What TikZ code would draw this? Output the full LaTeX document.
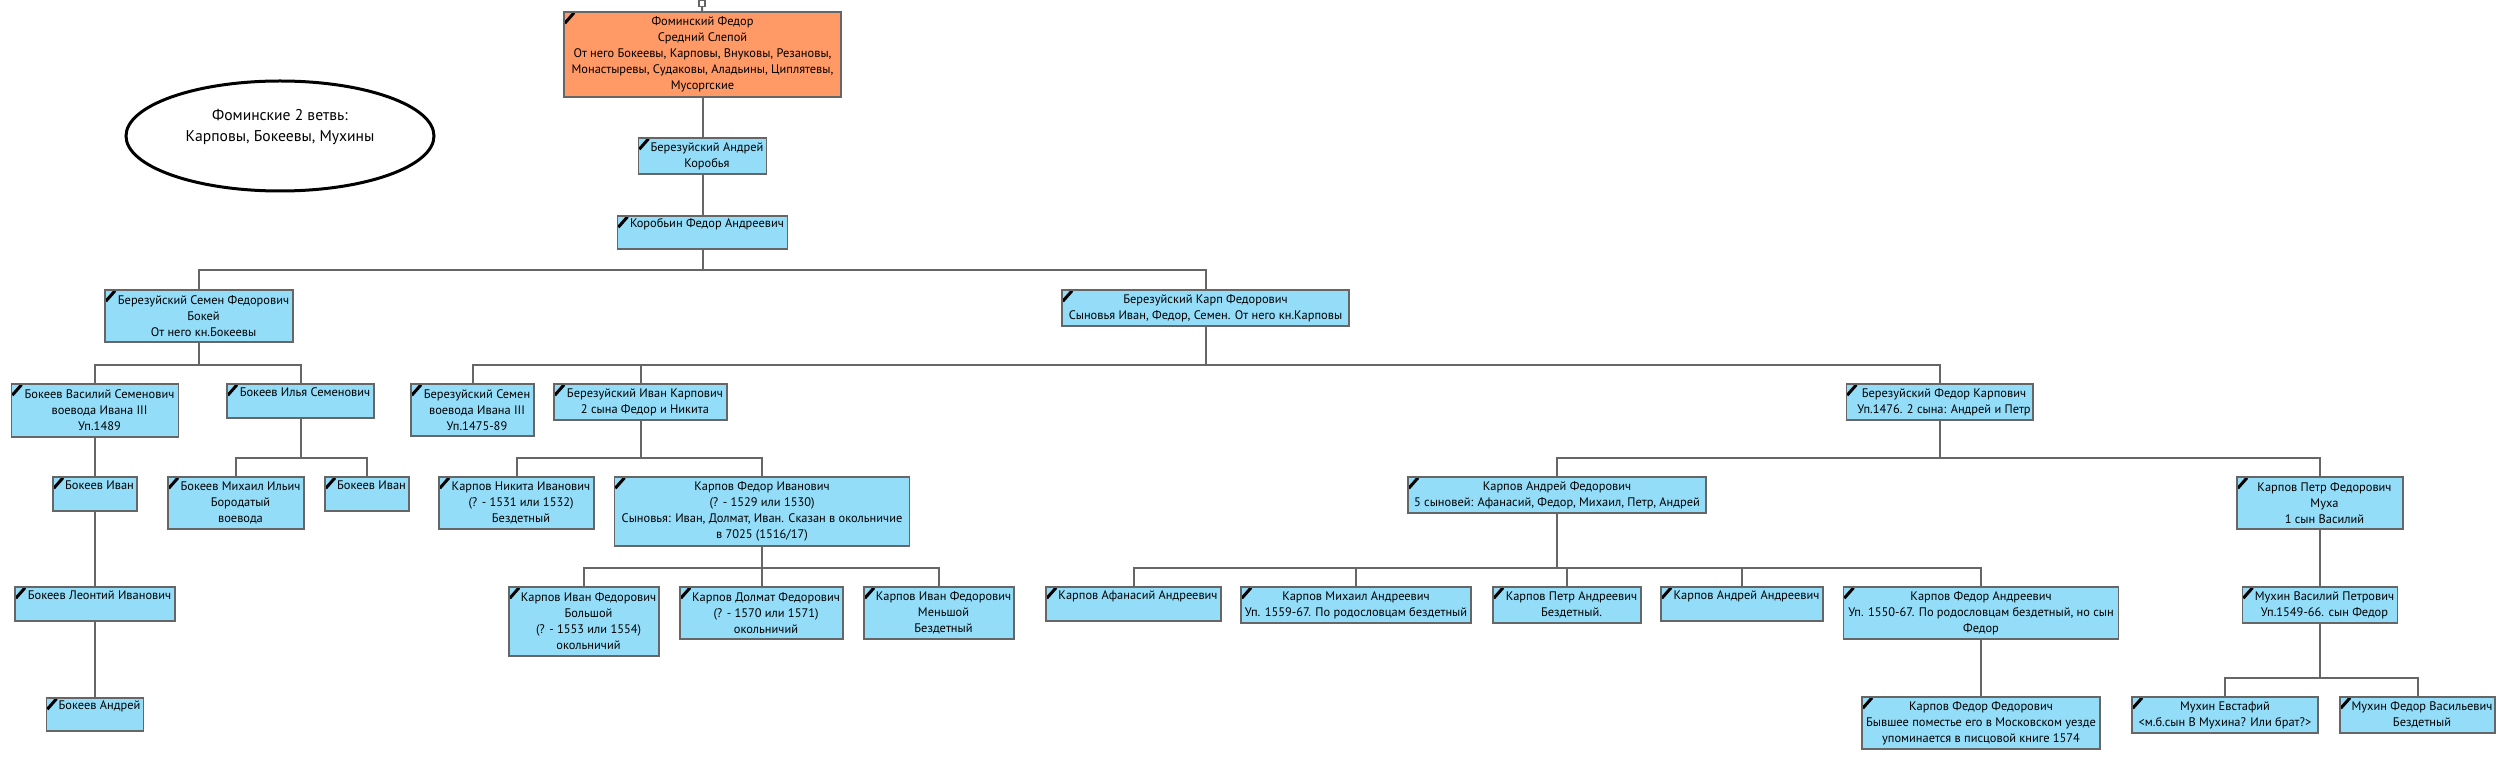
\documentclass[tikz,border=0pt]{standalone}
\usepackage{fontspec}
\setmainfont{PT Sans}
\usetikzlibrary{shapes.geometric}
\definecolor{boxblue}{HTML}{94DDF9}
\definecolor{rootorange}{HTML}{FF9966}
\definecolor{linegray}{HTML}{666666}
\begin{document}
\begin{tikzpicture}[
    x=0.5pt, y=-0.5pt,
    person/.style 2 args={draw=linegray, line width=0.8pt, fill=boxblue, align=center, inner sep=1pt,
        font=\fontsize{6.2}{8}\selectfont, minimum width=#1*0.5pt, minimum height=#2*0.5pt,
        path picture={\draw[black, line width=1.5pt]
            ([shift={(0.4pt,-5.6pt)}]path picture bounding box.north west) --
            ([shift={(5pt,-0.4pt)}]path picture bounding box.north west);}},
    lead/.style={execute at begin node=\hspace*{4.5pt}},
    oneline/.style={lead, text depth=9pt},
    link/.style={draw=linegray, line width=1pt}
]
    \useasboundingbox (0,0) rectangle (2507,764);

    % Note
    \node[draw=black, line width=1.5pt, ellipse, minimum width=154pt, minimum height=55pt,
        font=\fontsize{7.8}{10.5}\selectfont, align=center, text depth=10.5pt] (branches) at (280,136)
        {Фоминские 2 ветвь:\\Карповы, Бокеевы, Мухины};

    % Persons
    \node[draw=linegray, fill=white, line width=0.6pt, minimum size=3pt, inner sep=0pt] (handle) at (702,3.5) {};
    \node[person={277}{85}, fill=rootorange] (root) at (702.5,54.5) {Фоминский Федор\\Средний Слепой\\От него Бокеевы, Карповы, Внуковы, Резановы,\\Монастыревы, Судаковы, Аладьины, Циплятевы,\\Мусоргские};
    \node[person={128}{36}, lead] (koroba) at (702.5,156) {Березуйский Андрей\\Коробья};
    \node[person={170}{33}, oneline] (korobin) at (702.5,232.5) {Коробьин Федор Андреевич};

    \node[person={188}{52}, lead] (bokey) at (199,316) {Березуйский Семен Федорович\\Бокей\\От него кн.Бокеевы};
    \node[person={287}{36}] (karp) at (1205.5,308) {Березуйский Карп Федорович\\Сыновья Иван, Федор, Семен. От него кн.Карповы};

    \node[person={167}{53}, lead] (vasily) at (95,410.5) {Бокеев Василий Семенович\\воевода Ивана III\\Уп.1489};
    \node[person={147}{34}, oneline] (ilya) at (300.5,401) {Бокеев Илья Семенович};
    \node[person={123}{52}, lead] (semen) at (472.5,410) {Березуйский Семен\\воевода Ивана III\\Уп.1475-89};
    \node[person={173}{36}, lead] (ivank) at (640.5,402) {Березуйский Иван Карпович\\2 сына Федор и Никита};
    \node[person={181}{36}, lead] (fedork) at (1939.5,402) {Березуйский Федор Карпович\\Уп.1476. 2 сына: Андрей и Петр};

    \node[person={84}{34}, oneline] (bivan) at (95,494) {Бокеев Иван};
    \node[person={136}{52}, lead] (mikhail) at (236,503) {Бокеев Михаил Ильич\\Бородатый\\воевода};
    \node[person={84}{34}, oneline] (bivantwo) at (367,494) {Бокеев Иван};
    \node[person={155}{52}, lead] (nikita) at (516.5,503) {Карпов Никита Иванович\\(? - 1531 или 1532)\\Бездетный};
    \node[person={295}{69}] (fedori) at (762,511.5) {Карпов Федор Иванович\\(? - 1529 или 1530)\\Сыновья: Иван, Долмат, Иван. Сказан в окольничие\\в 7025 (1516/17)};
    \node[person={298}{36}] (andreyf) at (1557,495) {Карпов Андрей Федорович\\5 сыновей: Афанасий, Федор, Михаил, Петр, Андрей};
    \node[person={166}{52}, lead] (petrf) at (2320,503) {Карпов Петр Федорович\\Муха\\1 сын Василий};

    \node[person={160}{34}, oneline] (leonty) at (95,604) {Бокеев Леонтий Иванович};
    \node[person={150}{69}, lead] (ivanb) at (584,621.5) {Карпов Иван Федорович\\Большой\\(? - 1553 или 1554)\\окольничий};
    \node[person={163}{52}, lead] (dolmat) at (761.5,613) {Карпов Долмат Федорович\\(? - 1570 или 1571)\\окольничий};
    \node[person={150}{52}, lead] (ivanm) at (939,613) {Карпов Иван Федорович\\Меньшой\\Бездетный};
    \node[person={175}{34}, oneline] (afanasy) at (1133.5,604) {Карпов Афанасий Андреевич};
    \node[person={230}{36}] (mikhaila) at (1356,605) {Карпов Михаил Андреевич\\Уп. 1559-67. По родословцам бездетный};
    \node[person={148}{36}, lead] (petra) at (1567,605) {Карпов Петр Андреевич\\Бездетный.};
    \node[person={162}{34}, oneline] (andreya) at (1742,604) {Карпов Андрей Андреевич};
    \node[person={275}{52}] (fedora) at (1981,613) {Карпов Федор Андреевич\\Уп. 1550-67. По родословцам бездетный, но сын\\Федор};
    \node[person={155}{36}, lead] (mukhinv) at (2320,605) {Мухин Василий Петрович\\Уп.1549-66. сын Федор};

    \node[person={97}{33}, oneline] (andreyb) at (95,714.5) {Бокеев Андрей};
    \node[person={238}{52}] (fedorf) at (1981,723) {Карпов Федор Федорович\\Бывшее поместье его в Московском уезде\\упоминается в писцовой книге 1574};
    \node[person={186}{36}] (evstafy) at (2225,715) {Мухин Евстафий\\<м.б.сын В Мухина? Или брат?>};
    \node[person={155}{36}, lead] (fedorv) at (2417.5,715) {Мухин Федор Васильевич\\Бездетный};

    % Links
    \draw[link] (handle) -- (root);
    \draw[link] (root) -- (koroba);
    \draw[link] (koroba) -- (korobin);
    \foreach \c in {bokey,karp} \draw[link] (korobin.south) -- ++(0,20) -| (\c.north);
    \foreach \c in {vasily,ilya} \draw[link] (bokey.south) -- ++(0,22) -| (\c.north);
    \foreach \c in {semen,ivank,fedork} \draw[link] (karp.south) -- ++(0,38) -| (\c.north);
    \draw[link] (vasily) -- (bivan);
    \foreach \c in {mikhail,bivantwo} \draw[link] (ilya.south) -- ++(0,39) -| (\c.north);
    \foreach \c in {nikita,fedori} \draw[link] (ivank.south) -- ++(0,37) -| (\c.north);
    \foreach \c in {andreyf,petrf} \draw[link] (fedork.south) -- ++(0,37) -| (\c.north);
    \draw[link] (bivan) -- (leonty);
    \draw[link] (leonty) -- (andreyb);
    \foreach \c in {ivanb,dolmat,ivanm} \draw[link] (fedori.south) -- ++(0,21) -| (\c.north);
    \foreach \c in {afanasy,mikhaila,petra,andreya,fedora} \draw[link] (andreyf.south) -- ++(0,54) -| (\c.north);
    \draw[link] (petrf) -- (mukhinv);
    \draw[link] (fedora) -- (fedorf);
    \foreach \c in {evstafy,fedorv} \draw[link] (mukhinv.south) -- ++(0,54) -| (\c.north);
\end{tikzpicture}
\end{document}
